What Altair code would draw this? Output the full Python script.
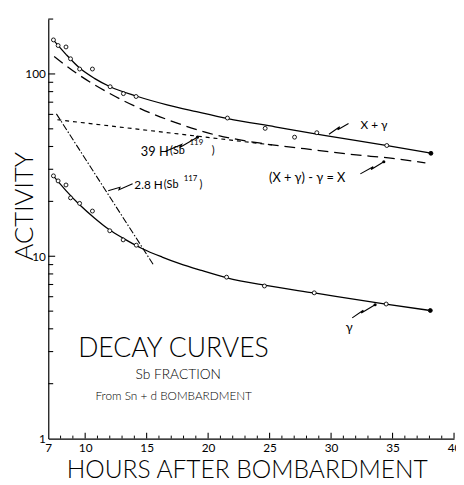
import altair as alt
import pandas as pd

# ---------------- data ----------------
# measured points, X + gamma
xg_x = [7.42, 7.80, 8.44, 8.81, 9.55, 10.59, 12.03, 13.11, 14.14, 21.57, 24.64, 27.03, 28.84, 34.53, 38.12]
xg_y = [153.7, 143.2, 140.6, 121.1, 106.4, 106.4, 85.1, 78.0, 75.2, 57.3, 50.3, 45.0, 47.6, 40.5, 36.7]
# measured points, gamma
g_x = [7.42, 7.80, 8.44, 8.81, 9.55, 10.59, 12.00, 13.09, 14.16, 21.50, 24.58, 28.63, 34.48, 38.07]
g_y = [27.6, 25.9, 24.6, 20.9, 19.5, 17.7, 13.8, 12.3, 11.5, 7.68, 6.87, 6.30, 5.47, 5.04]
# drawn curves
xg_curve_x = [7.42, 8.44, 9.55, 10.75, 12.03, 14.14, 16.66, 19.05, 21.60, 25.44, 29.43, 34.21, 38.12]
xg_curve_y = [153.3, 128.1, 107.7, 94.6, 85.1, 75.7, 67.7, 62.1, 56.9, 51.3, 46.1, 40.8, 36.8]
x_curve_x = [7.48, 9.47, 11.87, 14.53, 17.19, 20.11, 24.26, 27.83, 31.82, 35.01, 37.67]
x_curve_y = [124.5, 99.0, 79.0, 64.3, 54.6, 47.2, 41.7, 38.9, 36.1, 34.4, 32.5]
g_curve_x = [7.34, 8.44, 9.55, 10.75, 12.00, 13.07, 14.66, 16.26, 17.69, 19.45, 21.53, 24.56, 28.63, 34.45, 38.07]
g_curve_y = [27.93, 22.92, 19.15, 16.21, 13.92, 12.58, 11.00, 9.90, 9.11, 8.36, 7.62, 6.94, 6.29, 5.47, 5.04]
h39_x = [7.74, 25.2]
h39_y = [56.1, 40.8]
h28_x = [7.66, 15.6]
h28_y = [60.4, 8.87]

# axis ticks
x_labels = [7, 10, 15, 20, 25, 30, 35, 40]
x_major = [10, 15, 20, 25, 30, 35, 40]
x_minor = [v for v in range(8, 40) if v % 5 != 0]
y_labels = [1, 10, 100]
y_major = [10, 100]
y_minor = [2, 3, 4, 5, 6, 7, 8, 9, 20, 30, 40, 50, 60, 70, 80, 90, 200]

# annotations (data coordinates)
lab_text = ["X + γ", "(X + γ) - γ = X", "39 H", "(Sb", "119", ")", "2.8 H", "(Sb", "117", ")", "γ"]
lab_x = [32.40, 24.95, 14.53, 16.90, 18.49, 20.30, 14.00, 16.39, 18.01, 19.30, 31.20]
lab_y = [52.5, 27.0, 37.1, 37.6, 42.05, 37.6, 24.7, 24.7, 26.6, 24.7, 4.05]
lab_size = [12, 13, 13, 11, 8, 11, 12, 11, 8, 11, 13]

title_text = ["DECAY CURVES", "Sb FRACTION", "From  Sn + d  BOMBARDMENT"]
title_x = [17.18, 17.57, 17.20]
title_y = [3.08, 2.24, 1.70]
title_size = [27, 14, 12]

sq_id = [0]*4 + [1]*4 + [2]*4 + [3]*4 + [4]*4
sq_x = [29.83, 30.70, 30.54, 31.42,
        32.38, 33.42, 33.26, 34.29,
        16.50, 17.85, 17.69, 19.13,
        11.87, 12.83, 12.75, 13.86,
        31.72, 32.62, 32.46, 33.58]
sq_y = [46.7, 51.3, 49.4, 53.5,
        28.3, 31.0, 29.9, 33.0,
        37.6, 41.0, 39.5, 45.0,
        22.9, 23.9, 23.2, 25.0,
        4.59, 5.06, 4.88, 5.42]
tip_x = [34.29, 19.13, 33.58]
tip_y = [33.0, 45.0, 5.42]

# ---------------- chart ----------------
W, H = 413, 427
FONT = "Lato"

xs = alt.Scale(domain=[7, 40], nice=False, zero=False)
ys = alt.Scale(type="log", domain=[1, 200], nice=False)

x_axis = alt.Axis(values=x_labels, ticks=False, tickSize=0, labelPadding=4,
                  labelFontSize=12, labelFont=FONT, labelColor="black", labelFlush=False,
                  domainColor="black", domainWidth=1.2, grid=False,
                  title="HOURS AFTER BOMBARDMENT", titleFont=FONT, titleFontSize=25,
                  titleFontWeight=300, titleColor="black", titleX=202, titleY=32,
                  titleBaseline="middle", titleAlign="center")
y_axis = alt.Axis(values=y_labels, ticks=False, tickSize=0, labelPadding=3,
                  labelFontSize=12, labelFont=FONT, labelColor="black", labelFlush=False,
                  domainColor="black", domainWidth=1.2, grid=False, format="d",
                  title="ACTIVITY", titleFont=FONT, titleFontSize=26, titleFontWeight=300,
                  titleColor="black", titleAngle=270, titleX=-24, titleY=190,
                  titleBaseline="middle", titleAlign="center")

X = alt.X("x:Q", scale=xs, axis=x_axis)
Y = alt.Y("y:Q", scale=ys, axis=y_axis)


def df(xv, yv):
    d = pd.DataFrame({"x": xv, "y": yv})
    d["i"] = range(len(d))
    return d


line_xg = alt.Chart(df(xg_curve_x, xg_curve_y)).mark_line(
    color="black", strokeWidth=1.3, interpolate="monotone").encode(x=X, y=Y, order="i:Q")
line_g = alt.Chart(df(g_curve_x, g_curve_y)).mark_line(
    color="black", strokeWidth=1.3, interpolate="monotone").encode(x=X, y=Y, order="i:Q")
line_x = alt.Chart(df(x_curve_x, x_curve_y)).mark_line(
    color="black", strokeWidth=1.3, strokeDash=[11, 6], interpolate="monotone").encode(x=X, y=Y, order="i:Q")
line_39 = alt.Chart(df(h39_x, h39_y)).mark_line(
    color="black", strokeWidth=1.2, strokeDash=[4, 4]).encode(x=X, y=Y)
line_28 = alt.Chart(df(h28_x, h28_y)).mark_line(
    color="black", strokeWidth=1.1, strokeDash=[7, 2, 1.5, 2]).encode(x=X, y=Y)

pts_xg = alt.Chart(df(xg_x, xg_y)).mark_point(
    shape="circle", size=16, fill="white", fillOpacity=1, stroke="black",
    strokeWidth=0.9, opacity=1).encode(x=X, y=Y)
pts_g = alt.Chart(df(g_x, g_y)).mark_point(
    shape="circle", size=16, fill="white", fillOpacity=1, stroke="black",
    strokeWidth=0.9, opacity=1).encode(x=X, y=Y)
pts_end = alt.Chart(df([xg_x[-1], g_x[-1]], [xg_y[-1], g_y[-1]])).mark_point(
    shape="circle", size=16, filled=True, color="black", opacity=1).encode(x=X, y=Y)

ytick_major = alt.Chart(pd.DataFrame({"y": y_major})).mark_rule(
    color="black", strokeWidth=1.1).encode(y=Y, x=alt.value(0), x2=alt.value(7))
ytick_minor = alt.Chart(pd.DataFrame({"y": y_minor})).mark_rule(
    color="black", strokeWidth=1.1).encode(y=Y, x=alt.value(0), x2=alt.value(5))
xtick_major = alt.Chart(pd.DataFrame({"x": x_major})).mark_rule(
    color="black", strokeWidth=1.1).encode(x=X, y=alt.value(H), y2=alt.value(H - 6))
xtick_minor = alt.Chart(pd.DataFrame({"x": x_minor})).mark_rule(
    color="black", strokeWidth=1.0).encode(x=X, y=alt.value(H), y2=alt.value(H - 3))

labels = alt.Chart(pd.DataFrame({"x": lab_x, "y": lab_y, "t": lab_text, "s": lab_size})).mark_text(
    align="left", baseline="middle", font=FONT, color="black").encode(
    x=X, y=Y, text="t:N", size=alt.Size("s:Q", scale=None, legend=None))
titles = alt.Chart(pd.DataFrame({"x": title_x, "y": title_y, "t": title_text, "s": title_size})).mark_text(
    align="center", baseline="middle", font=FONT, fontWeight=300, color="black").encode(
    x=X, y=Y, text="t:N", size=alt.Size("s:Q", scale=None, legend=None))

squig = alt.Chart(pd.DataFrame({"x": sq_x, "y": sq_y, "g": sq_id, "i": list(range(len(sq_x)))})).mark_line(
    color="black", strokeWidth=1.1).encode(x=X, y=Y, detail="g:N", order="i:Q")
tips = alt.Chart(df(tip_x, tip_y)).mark_point(
    shape="circle", size=10, filled=True, color="black", opacity=1).encode(x=X, y=Y)

chart = alt.layer(
    line_xg, line_g, line_x, line_39, line_28, pts_xg, pts_g, pts_end,
    ytick_major, ytick_minor, xtick_major, xtick_minor,
    labels, titles, squig, tips
).properties(
    width=W, height=H, autosize="none",
    padding={"left": 41, "top": 7, "right": 2, "bottom": 43},
    background="white"
).configure_view(stroke=None)

chart.save("out.html", embed_options={"renderer": "svg", "actions": False})
